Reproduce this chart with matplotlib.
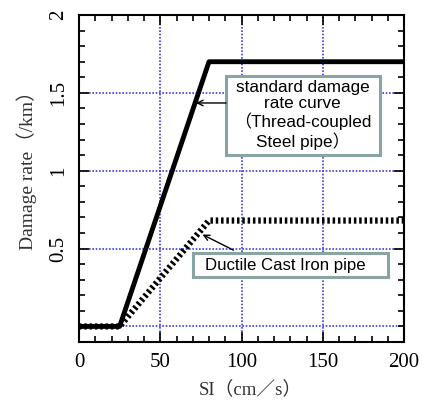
import matplotlib
matplotlib.use("Agg")
import matplotlib.pyplot as plt
from matplotlib.ticker import MultipleLocator
from matplotlib.patches import Rectangle

si_steel = [0, 25, 80, 200]
rate_steel = [0, 0, 1.7, 1.7]
si_ductile = [0, 25, 50, 80, 200]
rate_ductile = [0, 0, 0.31, 0.68, 0.68]
xticks = [0, 50, 100, 150, 200]
yticks = [0.5, 1, 1.5, 2]
ytick_labels = ["0.5", "1", "1.5", "2"]

serif = ["Liberation Serif", "Noto Sans CJK JP", "DejaVu Serif"]
sans = ["Liberation Sans", "Noto Sans CJK JP", "DejaVu Sans"]

fig = plt.figure(figsize=(4.33, 4.0), dpi=100)
ax = fig.add_axes([79/433, 58/400, 325/433, 327/400])

ax.set_xlim(0, 200)
ax.set_ylim(-0.1, 2)

ax.plot(si_steel, rate_steel, color="black", lw=3.5, solid_joinstyle="round", zorder=3)
ax.plot(si_ductile, rate_ductile, color="black", lw=4.5, linestyle=(0, (0.4, 0.45)),
        dash_capstyle="butt", zorder=3)

ax.set_xticks(xticks)
ax.set_xticklabels([str(v) for v in xticks], family=serif, fontsize=15)
ax.set_yticks(yticks)
ax.set_yticklabels(ytick_labels, family=serif, fontsize=15, rotation=90, va="center")
ax.xaxis.set_minor_locator(MultipleLocator(10))
ax.yaxis.set_minor_locator(MultipleLocator(0.1))
ax.tick_params(which="both", direction="in", top=True, right=True, width=1.2)
ax.tick_params(which="major", length=7, pad=8)
ax.tick_params(which="minor", length=4)
for s in ax.spines.values():
    s.set_linewidth(1.5)

for x in [50, 100, 150]:
    ax.axvline(x, color="#3b3bea", lw=1.2, linestyle=(0, (1, 1)), zorder=1)
for y in [0, 0.5, 1, 1.5]:
    ax.axhline(y, color="#3b3bea", lw=1.2, linestyle=(0, (1, 1)), zorder=1)

fig.text(250/433, 1 - 389/400, "SI（cm／s）", family=serif, fontsize=13.5, color="#333333",
         ha="center", va="center")
fig.text(27/433, 1 - 166/400, "Damage rate（/km）", family=serif, fontsize=14, color="#333333",
         ha="center", va="center", rotation=90)

edge = "#8aa4a4"
# box 1
ax.add_patch(Rectangle((90.5, 1.10), 94.5, 0.51, fc="white", ec=edge, lw=2.2, zorder=5))
ax.text(137.5, 1.36, "standard damage\nrate curve\n（Thread-coupled\nSteel pipe）",
        ha="center", va="center", fontsize=12.3, family=sans, linespacing=1.12, zorder=6)
ax.annotate("", xy=(72, 1.435), xytext=(90.5, 1.435),
            arrowprops=dict(arrowstyle="->", color="black", lw=1, shrinkA=0, shrinkB=0), zorder=6)
# box 2
ax.add_patch(Rectangle((70.2, 0.315), 120, 0.155, fc="white", ec=edge, lw=2.2, zorder=5))
ax.text(127, 0.39, "Ductile Cast Iron pipe", ha="center", va="center",
        fontsize=12.1, family=sans, zorder=6)
ax.annotate("", xy=(76, 0.59), xytext=(95, 0.49),
            arrowprops=dict(arrowstyle="->", color="black", lw=1, shrinkA=0, shrinkB=0), zorder=6)

fig.savefig("out.png", dpi=100)
